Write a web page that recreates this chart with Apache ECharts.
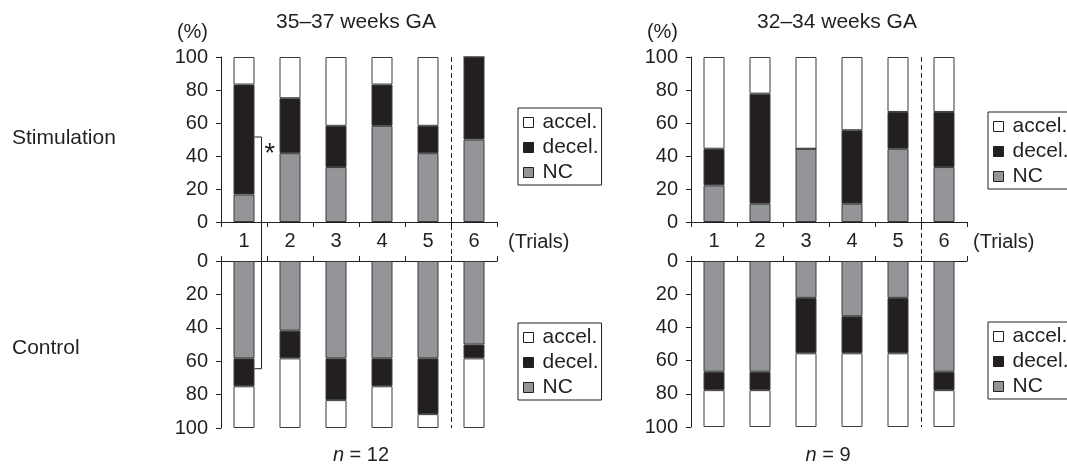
<!DOCTYPE html>
<html><head><meta charset="utf-8">
<script src="https://cdn.jsdelivr.net/npm/echarts@6/dist/echarts.min.js"></script>
<style>html,body{margin:0;padding:0;background:#fff}#c{width:1067px;height:465px}</style>
</head><body><div id="c"></div>
<script>
// ---- data ----
const trials = ['1', '2', '3', '4', '5', '6'];
const seriesNames = ['NC', 'decel.', 'accel.'];
const legendNames = ['accel.', 'decel.', 'NC'];
// 35–37 weeks GA (n = 12), percentages
const stim35NC    = [16.7, 41.7, 33.3, 58.3, 41.7, 50.0];
const stim35Decel = [66.6, 33.3, 25.0, 25.0, 16.6, 50.0];
const stim35Accel = [16.7, 25.0, 41.7, 16.7, 41.7, 0.0];
const ctrl35NC    = [58.3, 41.7, 58.3, 58.3, 58.3, 50.0];
const ctrl35Decel = [16.7, 16.6, 25.0, 16.7, 33.4, 8.3];
const ctrl35Accel = [25.0, 41.7, 16.7, 25.0, 8.3, 41.7];
// 32–34 weeks GA (n = 9), percentages
const stim32NC    = [22.2, 11.1, 44.4, 11.1, 44.4, 33.3];
const stim32Decel = [22.2, 66.7, 0.0, 44.5, 22.3, 33.4];
const stim32Accel = [55.6, 22.2, 55.6, 44.4, 33.3, 33.3];
const ctrl32NC    = [66.7, 66.7, 22.2, 33.3, 22.2, 66.7];
const ctrl32Decel = [11.1, 11.1, 33.4, 22.3, 33.4, 11.1];
const ctrl32Accel = [22.2, 22.2, 44.4, 44.4, 44.4, 22.2];
// significance bracket: trial index, stimulation value, control value, asterisk value
const bracketTrial = 0;
const bracketValues = [51.5, 64.5, 44];
// dashed separator between trial 5 and 6
const separatorBetween = [4, 5];

// ---- styles ----
const INK = '#231f20';
const FONT = 'Liberation Sans, Arial, Helvetica, sans-serif';
const fills = { 'NC': '#939598', 'decel.': '#231f20', 'accel.': '#ffffff' };

const grids = [
  { left: 221, top: 57, width: 276, height: 165 },
  { left: 221, top: 261, width: 276, height: 167 },
  { left: 691, top: 57, width: 276, height: 165 },
  { left: 691, top: 261, width: 276, height: 166 }
];
const panelData = [
  [stim35NC, stim35Decel, stim35Accel],
  [ctrl35NC, ctrl35Decel, ctrl35Accel],
  [stim32NC, stim32Decel, stim32Accel],
  [ctrl32NC, ctrl32Decel, ctrl32Accel]
];

const xAxes = grids.map((g, i) => {
  const bottomPanel = i % 2 === 1;
  return {
    type: 'category', gridIndex: i, data: trials,
    position: bottomPanel ? 'top' : 'bottom',
    axisLine: { show: true, lineStyle: { color: INK, width: 1 } },
    axisTick: { show: true, length: 5, lineStyle: { color: INK } },
    axisLabel: { show: !bottomPanel, fontSize: 20, color: INK, fontFamily: FONT, margin: 9 },
    splitLine: { show: false }
  };
});
const yAxes = grids.map((g, i) => ({
  type: 'value', gridIndex: i, min: 0, max: 100, interval: 20,
  inverse: i % 2 === 1,
  axisLine: { show: true, lineStyle: { color: INK, width: 1 } },
  axisTick: { show: true, length: 5, lineStyle: { color: INK } },
  axisLabel: { fontSize: 20, color: INK, fontFamily: FONT, margin: 13 },
  splitLine: { show: false }
}));

const series = [];
panelData.forEach((arrs, i) => {
  arrs.forEach((arr, k) => {
    series.push({
      type: 'bar', name: seriesNames[k], xAxisIndex: i, yAxisIndex: i,
      stack: 'p' + i, data: arr, barWidth: 21,
      itemStyle: { color: fills[seriesNames[k]], borderColor: '#3a3a3a', borderWidth: 1 },
      emphasis: { disabled: true }
    });
  });
});

const legendPos = [
  { left: 518, top: 108 }, { left: 518, top: 323 },
  { left: 988, top: 112 }, { left: 988, top: 322 }
];
const legends = legendPos.map(p => ({
  left: p.left, top: p.top, orient: 'vertical', data: legendNames,
  icon: 'rect', itemWidth: 10, itemHeight: 10, itemGap: 4,
  padding: [4, 3, 2, 5],
  borderColor: INK, borderWidth: 1, borderRadius: 0,
  selectedMode: false,
  itemStyle: { borderColor: INK, borderWidth: 1 },
  textStyle: { fontSize: 21, color: INK, fontFamily: FONT, lineHeight: 20, padding: [0, 0, 0, 4] }
}));

const chart = echarts.init(document.getElementById('c'), null, { renderer: 'canvas' });
chart.setOption({
  animation: false,
  backgroundColor: '#ffffff',
  grid: grids,
  xAxis: xAxes,
  yAxis: yAxes,
  legend: legends,
  series: series
});

// ---- annotations computed from the axes ----
function px(gi, cat, val) { return chart.convertToPixel({ gridIndex: gi }, [cat, val]); }
function txt(text, x, y, opts) {
  return {
    type: 'text', x: x, y: y, silent: true,
    style: Object.assign({ text: text, fill: INK, font: '21px ' + FONT, align: 'left', verticalAlign: 'middle' }, opts || {})
  };
}
const graphics = [];
// dashed separators
[[0, 1], [2, 3]].forEach(([gt, gb]) => {
  const xa = px(gt, separatorBetween[0], 0)[0];
  const xb = px(gt, separatorBetween[1], 0)[0];
  const x = Math.round((xa + xb) / 2) + 0.5;
  const y1 = px(gt, 0, 100)[1];
  const y2 = px(gb, 0, 100)[1];
  graphics.push({ type: 'line', silent: true, shape: { x1: x, y1: y1, x2: x, y2: y2 },
    style: { stroke: INK, lineWidth: 1, lineDash: [5, 3] } });
});
// significance bracket
{
  const cx = px(0, bracketTrial, 0)[0];
  const yT = px(0, bracketTrial, bracketValues[0])[1];
  const yB = px(1, bracketTrial, bracketValues[1])[1];
  const xr = cx + 10.5, bx = Math.round(cx + 16.5) + 0.5;
  graphics.push({ type: 'polyline', silent: true,
    shape: { points: [[xr, yT], [bx, yT], [bx, yB], [xr, yB]] },
    style: { stroke: INK, lineWidth: 1, fill: null } });
  const yS = px(0, bracketTrial, bracketValues[2])[1];
  graphics.push(txt('*', bx + 3, yS + 5, { font: '27px ' + FONT }));
}
// texts
graphics.push(txt('Stimulation', 12, 138));
graphics.push(txt('Control', 12, 348));
graphics.push(txt('35–37 weeks GA', 356, 22, { align: 'center' }));
graphics.push(txt('32–34 weeks GA', 837, 22, { align: 'center' }));
graphics.push(txt('(%)', 208, 32, { align: 'right', font: '20px ' + FONT }));
graphics.push(txt('(%)', 678, 32, { align: 'right', font: '20px ' + FONT }));
graphics.push(txt('(Trials)', 508, 242, { font: '20px ' + FONT }));
graphics.push(txt('(Trials)', 973, 242, { font: '20px ' + FONT }));
const rich = { i: { fontStyle: 'italic', fontSize: 20, fontFamily: FONT, fill: INK }, r: { fontSize: 20, fontFamily: FONT, fill: INK } };
graphics.push(txt('{i|n}{r| = 12}', 361, 455, { align: 'center', rich: rich }));
graphics.push(txt('{i|n}{r| = 9}', 828, 455, { align: 'center', rich: rich }));
chart.setOption({ graphic: graphics });
</script></body></html>
